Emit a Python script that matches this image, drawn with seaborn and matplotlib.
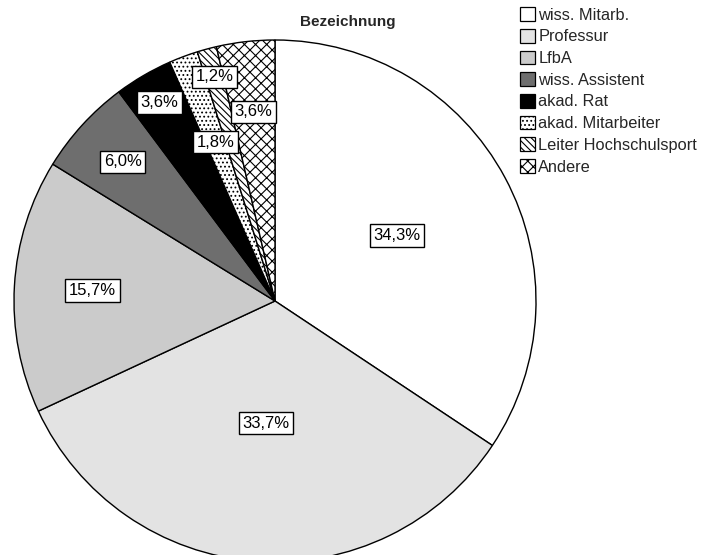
import numpy as np
import matplotlib
matplotlib.use("Agg")
import matplotlib.pyplot as plt
import seaborn as sns

# Shares of job titles (percent)
categories = ["wiss. Mitarb.", "Professur", "LfbA", "wiss. Assistent",
              "akad. Rat", "akad. Mitarbeiter", "Leiter Hochschulsport", "Andere"]
shares = [34.3, 33.7, 15.7, 6.0, 3.6, 1.8, 1.2, 3.6]

# Fill styles per slice
fill_colors = ["#ffffff", "#e3e3e3", "#cbcbcb", "#6e6e6e",
               "#000000", "#ffffff", "#ffffff", "#ffffff"]
hatches = [None, None, None, None, None, "....", "\\\\\\\\\\", "xxx"]
# Radial position of each percentage box (fraction of radius)
label_radius = [0.53, 0.47, 0.70, 0.79, 0.88, 0.65, 0.89, 0.73]

sns.set_theme(style="white")
plt.rcParams["font.family"] = ["Liberation Sans", "DejaVu Sans"]
plt.rcParams["hatch.linewidth"] = 0.8
plt.rcParams["hatch.color"] = "black"

W, H, DPI = 703, 555, 100
fig = plt.figure(figsize=(W / DPI, H / DPI), dpi=DPI)
fig.patch.set_facecolor("white")
ax = fig.add_axes([0, 0, 1, 1])

wedges, _ = ax.pie(shares, colors=fill_colors, startangle=90, counterclock=False,
                   radius=1.0, center=(0, 0),
                   wedgeprops=dict(edgecolor="black", linewidth=1.0))
for w, h in zip(wedges, hatches):
    if h:
        w.set_hatch(h)

cx, cy, r = 275.0, 301.0, 261.0  # centre and radius in pixels
ax.set_aspect("auto")
ax.set_xlim(-cx / r, (W - cx) / r)
ax.set_ylim(-(H - cy) / r, cy / r)
ax.axis("off")

total = sum(shares)
cum = 0.0
for v, rr in zip(shares, label_radius):
    theta = np.deg2rad(90 - 360 * (cum + v / 2) / total)
    cum += v
    ax.text(rr * np.cos(theta), rr * np.sin(theta),
            f"{v:.1f}".replace(".", ",") + "%",
            ha="center", va="center", fontsize=12, color="black",
            bbox=dict(boxstyle="square,pad=0.22", fc="white", ec="black", lw=1.0))

fig.text(348 / W, 1 - 22 / H, "Bezeichnung", ha="center", va="center",
         fontsize=11, fontweight="bold")

leg = ax.legend(wedges, categories, loc="upper left",
                bbox_to_anchor=(517 / W, 1 - 4 / H), bbox_transform=fig.transFigure,
                frameon=False, fontsize=11.8, handlelength=0.9, handleheight=0.9,
                handletextpad=0.2, labelspacing=0.38, borderpad=0.2, borderaxespad=0)
for p in leg.get_patches():
    p.set_edgecolor("black")
    p.set_linewidth(0.9)

fig.savefig("out.png", dpi=DPI, facecolor="white")
